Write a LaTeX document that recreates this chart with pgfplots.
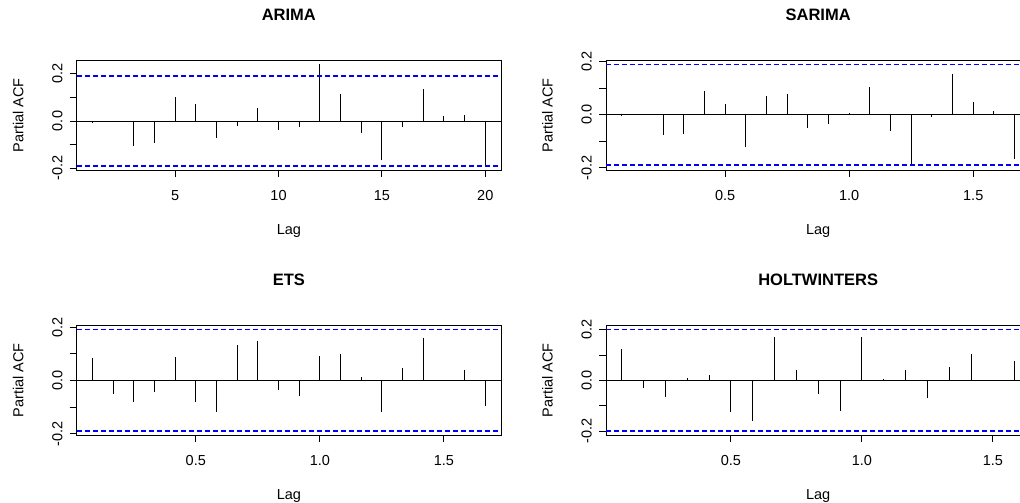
\documentclass[border=0pt]{standalone}
\usepackage{fontspec}
\setmainfont{Liberation Sans}
\usepackage{pgfplots}
\pgfplotsset{compat=1.18}
\definecolor{rblue}{RGB}{0,0,255}

\pgfplotsset{
  racf/.style={
    scale only axis, width=424.3pt, height=109.3pt, anchor=south west,
    axis line style={line width=0.9pt},
    every tick/.style={line width=0.9pt},
    tick align=outside, major tick length=7pt,
    xtick pos=bottom, ytick pos=left,
    ytick={-0.2,-0.1,0,0.1,0.2}, yticklabels={-0.2,,0.0,,0.2},
    every tick label/.append style={font=\fontsize{14.5}{16}\selectfont},
    yticklabel style={rotate=90, anchor=south, inner sep=0pt},
    xticklabel style={anchor=north, inner sep=0pt},
    yticklabel shift=7pt, xticklabel shift=13pt,
    title style={at={(axis description cs:0.5,1.366)}, anchor=center, font=\bfseries\fontsize{16.5}{18}\selectfont},
    xlabel style={at={(axis description cs:0.5,-0.555)}, anchor=center, font=\fontsize{14.5}{16}\selectfont},
    ylabel style={at={(axis description cs:-0.138,0.5)}, anchor=center, rotate=0, font=\fontsize{14.5}{16}\selectfont},
    xlabel={Lag}, ylabel={Partial ACF},
  },
  climline/.style={draw=rblue, line width=1.2pt, mark=none, dash pattern=on 5pt off 3pt},
}

\begin{document}
\begin{tikzpicture}[x=1pt,y=1pt]
\useasboundingbox (0,0) rectangle (1020,503);

% ARIMA
\begin{axis}[racf, at={(76.7pt,333pt)}, xmin=0.24, xmax=20.76, ymin=-0.208, ymax=0.256,
  xtick={5,10,15,20}, xticklabels={5,10,15,20}, title={ARIMA}]
\addplot[line width=0.9pt, mark=none] coordinates {(0.24,0) (20.76,0)};
\addplot[ycomb, mark=none, line width=1pt] coordinates {
(1,-0.008) (2,0.001) (3,-0.107) (4,-0.094) (5,0.101) (6,0.074) (7,-0.071) (8,-0.021)
(9,0.056) (10,-0.040) (11,-0.026) (12,0.242) (13,0.115) (14,-0.053) (15,-0.165)
(16,-0.026) (17,0.137) (18,0.020) (19,0.024) (20,-0.191)};
\addplot[climline] coordinates {(0.24,0.191) (20.76,0.191)};
\addplot[climline] coordinates {(0.24,-0.191) (20.76,-0.191)};
\end{axis}

% SARIMA
\begin{axis}[racf, at={(606pt,333pt)}, xmin=0.02, xmax=1.73, ymin=-0.208, ymax=0.204,
  xtick={0.5,1,1.5}, xticklabels={0.5,1.0,1.5}, title={SARIMA}]
\addplot[line width=0.9pt, mark=none] coordinates {(0.02,0) (1.73,0)};
\addplot[ycomb, mark=none, line width=1pt] coordinates {
(0.0833,0.001) (0.1667,0.004) (0.25,-0.076) (0.3333,-0.071) (0.4167,0.088) (0.5,0.040)
(0.5833,-0.120) (0.6667,0.071) (0.75,0.079) (0.8333,-0.048) (0.9167,-0.033) (1.0,0.008)
(1.0833,0.104) (1.1667,-0.060) (1.25,-0.193) (1.3333,-0.009) (1.4167,0.155) (1.5,0.048)
(1.5833,0.015) (1.6667,-0.168)};
\addplot[climline] coordinates {(0.02,0.189) (1.73,0.189)};
\addplot[climline] coordinates {(0.02,-0.189) (1.73,-0.189)};
\end{axis}

% ETS
\begin{axis}[racf, at={(76.7pt,68pt)}, xmin=0.02, xmax=1.73, ymin=-0.205, ymax=0.205,
  xtick={0.5,1,1.5}, xticklabels={0.5,1.0,1.5}, title={ETS}]
\addplot[line width=0.9pt, mark=none] coordinates {(0.02,0) (1.73,0)};
\addplot[ycomb, mark=none, line width=1pt] coordinates {
(0.0833,0.082) (0.1667,-0.050) (0.25,-0.082) (0.3333,-0.043) (0.4167,0.086) (0.5,-0.082)
(0.5833,-0.118) (0.6667,0.133) (0.75,0.146) (0.8333,-0.035) (0.9167,-0.058) (1.0,0.093)
(1.0833,0.097) (1.1667,0.014) (1.25,-0.118) (1.3333,0.045) (1.4167,0.158) (1.5,0.001)
(1.5833,0.040) (1.6667,-0.098)};
\addplot[climline] coordinates {(0.02,0.190) (1.73,0.190)};
\addplot[climline] coordinates {(0.02,-0.190) (1.73,-0.190)};
\end{axis}

% HOLTWINTERS
\begin{axis}[racf, at={(606pt,68pt)}, xmin=0.0233, xmax=1.643, ymin=-0.216, ymax=0.216,
  xtick={0.5,1,1.5}, xticklabels={0.5,1.0,1.5}, title={HOLTWINTERS}]
\addplot[line width=0.9pt, mark=none] coordinates {(0.0233,0) (1.643,0)};
\addplot[ycomb, mark=none, line width=1pt] coordinates {
(0.0833,0.123) (0.1667,-0.031) (0.25,-0.065) (0.3333,0.010) (0.4167,0.022) (0.5,-0.124)
(0.5833,-0.162) (0.6667,0.170) (0.75,0.039) (0.8333,-0.054) (0.9167,-0.120) (1.0,0.170)
(1.0833,0.007) (1.1667,0.039) (1.25,-0.069) (1.3333,0.052) (1.4167,0.106) (1.5,0.001)
(1.5833,0.077)};
\addplot[climline] coordinates {(0.0233,0.200) (1.643,0.200)};
\addplot[climline] coordinates {(0.0233,-0.200) (1.643,-0.200)};
\end{axis}
\end{tikzpicture}
\end{document}
